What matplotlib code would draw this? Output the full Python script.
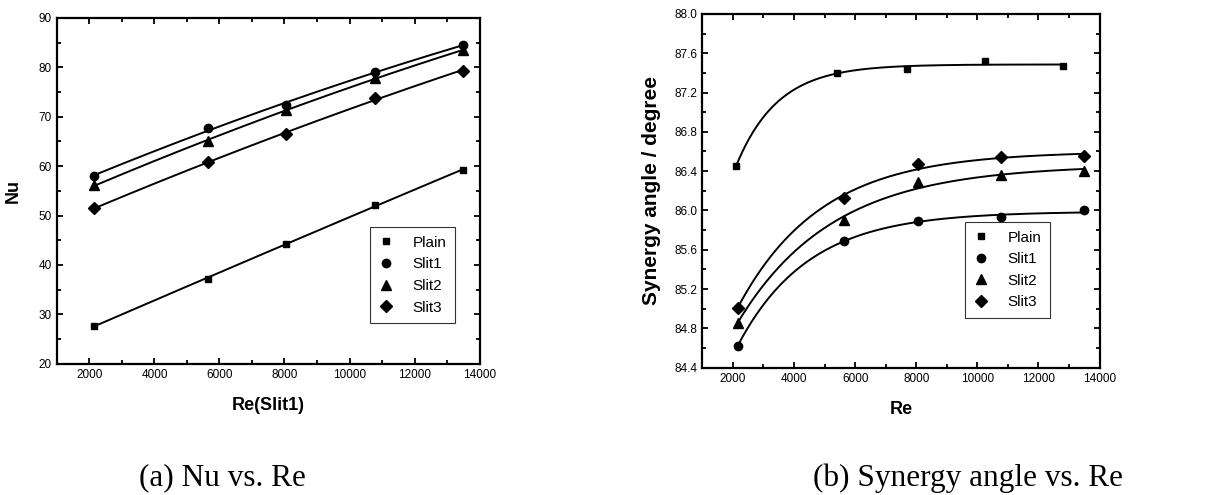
import numpy as np
import matplotlib
matplotlib.use("Agg")
import matplotlib.pyplot as plt
from matplotlib.ticker import MultipleLocator, FormatStrFormatter

# ── Data ──────────────────────────────────────────────────────────────────
series_names = ["Plain", "Slit1", "Slit2", "Slit3"]
markers = ["s", "o", "^", "D"]
marker_sizes = [5, 6, 6.5, 6]

re_nu = [2150, 5650, 8050, 10780, 13480]
nu_plain = [27.7, 37.2, 44.3, 52.1, 59.2]
nu_slit1 = [58.0, 67.8, 72.3, 79.0, 84.5]
nu_slit2 = [56.1, 65.1, 71.4, 77.8, 83.4]
nu_slit3 = [51.5, 60.8, 66.5, 73.8, 79.3]

re_plain = [2100, 5400, 7700, 10250, 12800]
re_slit = [2150, 5650, 8050, 10780, 13480]
syn_plain = [86.45, 87.40, 87.44, 87.52, 87.47]
syn_slit1 = [84.62, 85.69, 85.89, 85.93, 86.00]
syn_slit2 = [84.86, 85.90, 86.29, 86.36, 86.40]
syn_slit3 = [85.01, 86.13, 86.47, 86.54, 86.55]

plt.rcParams["font.family"] = ["Liberation Sans", "DejaVu Sans"]


def fit_saturating(x, y):
    """Least-squares fit of y = a + b*exp(-x/t), t picked from a grid."""
    x = np.asarray(x, float)
    y = np.asarray(y, float)
    best = None
    for t in np.linspace(300, 8000, 400):
        A = np.column_stack([np.ones_like(x), np.exp(-x / t)])
        coef, *_ = np.linalg.lstsq(A, y, rcond=None)
        err = np.sum((A @ coef - y) ** 2)
        if best is None or err < best[0]:
            best = (err, t, coef)
    _, t, (a, b) = best
    xs = np.linspace(x.min(), x.max(), 300)
    return xs, a + b * np.exp(-xs / t)


def style_axes(ax):
    for sp in ax.spines.values():
        sp.set_linewidth(1.6)
    ax.tick_params(which="both", direction="in", top=True, right=True,
                   width=1.3, labelsize=8.5)
    ax.tick_params(which="major", length=4.5)
    ax.tick_params(which="minor", length=3)
    ax.xaxis.set_major_locator(MultipleLocator(2000))
    ax.xaxis.set_minor_locator(MultipleLocator(1000))
    ax.set_xlim(1000, 14000)


def add_legend(ax, anchor):
    leg = ax.legend(loc="lower right", bbox_to_anchor=anchor,
                    borderaxespad=0, frameon=True, fancybox=False,
                    handletextpad=1.2, labelspacing=0.5, borderpad=0.55,
                    fontsize=11, handlelength=1.0)
    leg.get_frame().set_edgecolor("black")
    leg.get_frame().set_linewidth(0.8)


fig = plt.figure(figsize=(12.11, 4.95), dpi=100)

# (a) Nu vs Re
ax1 = fig.add_axes([0.047, 0.265, 0.349, 0.699])
nu_series = [nu_plain, nu_slit1, nu_slit2, nu_slit3]
for name, m, ms, y in zip(series_names, markers, marker_sizes, nu_series):
    c = np.polyfit(re_nu, y, 2)
    xs = np.linspace(min(re_nu), max(re_nu), 200)
    ax1.plot(xs, np.polyval(c, xs), color="black", lw=1.4)
    ax1.plot(re_nu, y, linestyle="none", marker=m, ms=ms, color="black",
             label=name)
style_axes(ax1)
ax1.set_ylim(20, 90)
ax1.yaxis.set_major_locator(MultipleLocator(10))
ax1.yaxis.set_minor_locator(MultipleLocator(5))
ax1.set_xlabel("Re(Slit1)", fontsize=13, fontweight="bold", labelpad=12)
ax1.set_ylabel("Nu", fontsize=13, fontweight="bold", labelpad=12)
add_legend(ax1, (0.941, 0.118))

# (b) synergy angle vs Re
ax2 = fig.add_axes([0.580, 0.257, 0.328, 0.715])
syn_x = [re_plain, re_slit, re_slit, re_slit]
syn_series = [syn_plain, syn_slit1, syn_slit2, syn_slit3]
for name, m, ms, x, y in zip(series_names, markers, marker_sizes, syn_x, syn_series):
    xs, ys = fit_saturating(x, y)
    ax2.plot(xs, ys, color="black", lw=1.4)
    ax2.plot(x, y, linestyle="none", marker=m, ms=ms, color="black",
             label=name)
style_axes(ax2)
ax2.set_ylim(84.4, 88.0)
ax2.yaxis.set_major_locator(MultipleLocator(0.4))
ax2.yaxis.set_minor_locator(MultipleLocator(0.2))
ax2.yaxis.set_major_formatter(FormatStrFormatter("%.1f"))
ax2.set_xlabel("Re", fontsize=13, fontweight="bold", labelpad=12)
ax2.set_ylabel("Synergy angle / degree", fontsize=15, fontweight="bold",
               labelpad=10)
add_legend(ax2, (0.874, 0.141))

# captions under each panel
fig.text(0.184, 0.034, "(a) Nu vs. Re", ha="center", va="center",
         fontsize=22.5, family="Liberation Serif")
fig.text(0.799, 0.034, "(b) Synergy angle vs. Re", ha="center", va="center",
         fontsize=22.5, family="Liberation Serif")

fig.savefig("out.png", dpi=100)
